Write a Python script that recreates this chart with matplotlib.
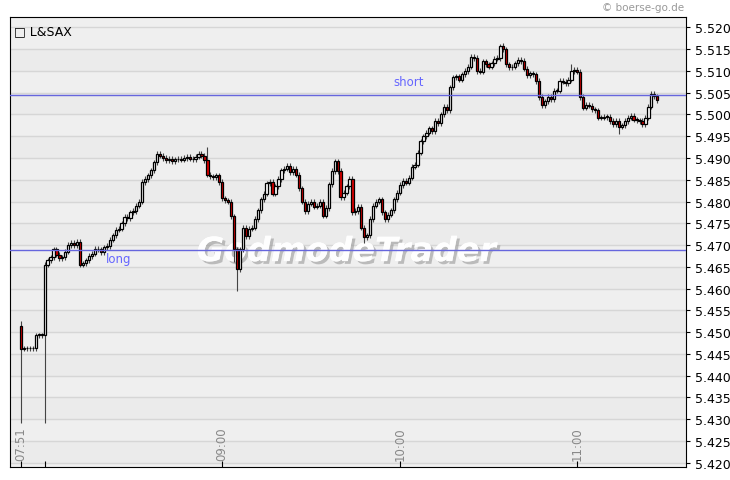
import matplotlib
matplotlib.use("Agg")
import matplotlib.pyplot as plt
from matplotlib.patches import Rectangle
import matplotlib.patheffects as pe

first_open = 5.4514
closes = [
5.4462,5.4463,5.4463,5.4463,5.4463,5.4493,5.4493,5.4493,5.4655,5.4665,
5.4672,5.4690,5.4678,5.4670,5.4672,5.4685,5.4700,5.4705,5.4700,5.4708,
5.4655,5.4658,5.4665,5.4675,5.4680,5.4692,5.4690,5.4684,5.4695,5.4698,
5.4712,5.4722,5.4735,5.4738,5.4750,5.4765,5.4762,5.4775,5.4778,5.4790,
5.4800,5.4845,5.4852,5.4860,5.4872,5.4890,5.4910,5.4905,5.4900,5.4895,
5.4898,5.4893,5.4897,5.4898,5.4896,5.4900,5.4903,5.4898,5.4897,5.4903,
5.4910,5.4905,5.4895,5.4862,5.4858,5.4856,5.4860,5.4845,5.4807,5.4803,
5.4800,5.4766,5.4690,5.4645,5.4690,5.4740,5.4720,5.4738,5.4740,5.4760,
5.4780,5.4805,5.4818,5.4842,5.4845,5.4818,5.4835,5.4852,5.4872,5.4875,
5.4882,5.4868,5.4875,5.4862,5.4830,5.4800,5.4778,5.4795,5.4800,5.4788,
5.4790,5.4800,5.4767,5.4785,5.4840,5.4870,5.4892,5.4870,5.4810,5.4820,
5.4835,5.4852,5.4775,5.4778,5.4788,5.4740,5.4718,5.4722,5.4760,5.4790,
5.4800,5.4805,5.4775,5.4760,5.4770,5.4780,5.4805,5.4820,5.4838,5.4848,
5.4843,5.4855,5.4880,5.4885,5.4912,5.4938,5.4950,5.4958,5.4968,5.4962,
5.4985,5.4980,5.5000,5.5018,5.5010,5.5062,5.5085,5.5088,5.5080,5.5092,
5.5100,5.5110,5.5132,5.5130,5.5100,5.5098,5.5122,5.5115,5.5110,5.5118,
5.5128,5.5130,5.5158,5.5150,5.5115,5.5108,5.5110,5.5118,5.5125,5.5123,
5.5105,5.5090,5.5095,5.5092,5.5077,5.5040,5.5022,5.5030,5.5040,5.5035,
5.5055,5.5055,5.5077,5.5075,5.5072,5.5080,5.5100,5.5103,5.5098,5.5040,
5.5016,5.5022,5.5020,5.5012,5.5010,5.4993,5.4993,5.4995,5.4994,5.4985,
5.4978,5.4985,5.4972,5.4975,5.4985,5.4993,5.4997,5.4988,5.4987,5.4985,
5.4978,5.4993,5.5018,5.5047,5.5042,5.5033]
special_lows = {0: 5.4290, 8: 5.4290, 73: 5.4595, 72: 5.4660, 116: 5.4705, 202: 5.4955}
special_highs = {0: 5.4525, 162: 5.5163, 63: 5.4925, 186: 5.5115}
wick = 0.0006

tick_pos = [0, 8, 68, 128, 188]
tick_lab = ["07:51", "", "09:00", "10:00", "11:00"]
short_level, long_level = 5.5045, 5.4688

fig = plt.figure(figsize=(7.30, 4.81), dpi=100)
ax = fig.add_axes([0.0137, 0.027, 0.926, 0.9356])
ax.set_facecolor("#efefef")
ax.set_xlim(-3.7, 224.7)
ax.set_ylim(5.4190, 5.5224)
yt = [5.420 + 0.005 * i for i in range(21)]
for i in range(20):
    if i % 2 == 0:
        ax.axhspan(yt[i], yt[i + 1], color="#ebebeb", zorder=0)
for y in yt:
    ax.axhline(y, color="#d6d6d6", lw=1, zorder=0.5)
ax.set_yticks(yt)
ax.set_yticklabels([f"{v:.3f}" for v in yt])
ax.yaxis.tick_right()
ax.tick_params(axis="y", labelsize=9, colors="black", length=3)
ax.set_xticks(tick_pos)
ax.set_xticklabels([])
ax.tick_params(axis="x", length=4, direction="in")
for p, l in zip(tick_pos, tick_lab):
    ax.text(p, 5.4205, l, rotation=90, ha="center", va="bottom", fontsize=8.5, color="#888888")

ax.text(110, 5.4685, "GodmodeTrader", fontsize=24, fontweight="bold", style="italic",
        color="white", alpha=0.95, ha="center", va="center", zorder=1,
        path_effects=[pe.withSimplePatchShadow(offset=(2, -2), shadow_rgbFace="#999999", alpha=0.6), pe.Normal()])

opens = [first_open] + closes[:-1]
w = 0.75
for i, (o, c) in enumerate(zip(opens, closes)):
    hi = special_highs.get(i, max(o, c) + wick)
    lo = special_lows.get(i, min(o, c) - wick)
    ax.vlines(i, lo, hi, color="#444444", lw=0.8, zorder=2)
    body = max(abs(c - o), 0.00015)
    fc = "#dd0000" if c < o else "white"
    ax.add_patch(Rectangle((i - w / 2, min(o, c)), w, body, facecolor=fc,
                           edgecolor="black", lw=0.9, zorder=3))

ax.axhline(short_level, color="#6666dd", lw=1, zorder=4)
ax.axhline(long_level, color="#6666dd", lw=1, zorder=4)
ax.text(131, short_level + 0.0015, "short", color="#6666ff", fontsize=8.5, ha="center", va="bottom")
ax.text(33, long_level - 0.0004, "long", color="#6666ff", fontsize=8.5, ha="center", va="top")
for s in ax.spines.values():
    s.set_color("black")
ax.text(0.006, 0.985, "\u25a1 L&SAX", transform=ax.transAxes, fontsize=9, va="top", ha="left")
fig.text(0.937, 0.993, "\u00a9 boerse-go.de", fontsize=7.5, color="#999999", ha="right", va="top")
fig.savefig("out.png", dpi=100)
